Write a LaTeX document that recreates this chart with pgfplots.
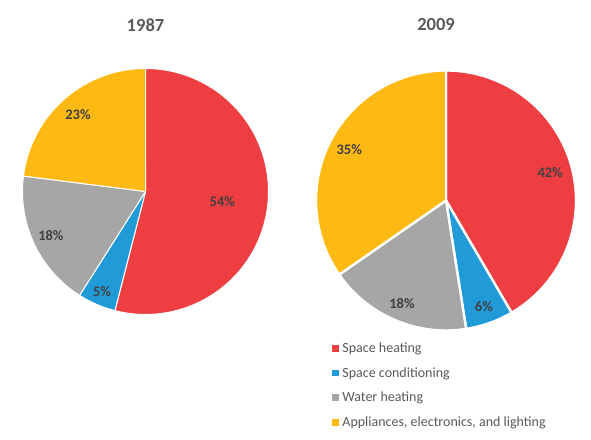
\documentclass[border=0pt]{standalone}
\usepackage{pgfplots}
\pgfplotsset{compat=1.18}
\usepackage{fontspec}
\setmainfont{Carlito}
\definecolor{cSH}{RGB}{239,62,66}
\definecolor{cSC}{RGB}{33,155,215}
\definecolor{cWH}{RGB}{166,166,166}
\definecolor{cAP}{RGB}{255,185,19}
\definecolor{ctitle}{RGB}{89,89,89}
\definecolor{clab}{RGB}{64,64,64}
\pgfplotsset{sq/.style={legend image code/.code={\path[fill=#1,draw=none] (0bp,-3.3bp) rectangle (6.6bp,3.3bp); \path (9bp,0bp);}}}
% #1 cx, #2 cy, #3 r, #4 cumulative start, #5 value, #6 total, #7 colour, #8 border width, #9 label radius factor
\newcommand{\slice}[9]{%
  \addplot[forget plot, fill=#7, draw=white, line width=#8, line join=round,
    domain={90-360*(#4+#5)/#6}:{90-360*(#4)/#6}, samples=90, variable=\t]
    ({#1+#3*cos(\t)},{#2+#3*sin(\t)}) -- (axis cs:#1,#2) -- cycle;
  \node[font=\fontsize{14.5bp}{17bp}\selectfont\bfseries, text=clab]
    at (axis cs:{#1+#9*#3*cos(90-360*(#4+#5/2)/#6)},{#2+#9*#3*sin(90-360*(#4+#5/2)/#6)}) {#5\%};
}
\begin{document}
\begin{tikzpicture}
\begin{axis}[
  width=591bp, height=440bp, scale only axis,
  xmin=0, xmax=591, ymin=0, ymax=440,
  hide axis, clip=false,
  legend style={at={(axis cs:332,98.5)}, anchor=north west, draw=none,
    font=\fontsize{14bp}{16bp}\selectfont, text=ctitle, row sep=11.5bp,
    inner sep=0pt, nodes={inner sep=1pt}, cells={anchor=west}},
]
\path (axis cs:0,0) rectangle (axis cs:591,440);
% 1987
\slice{145.5}{248.5}{123}{0}{54}{100}{cSH}{1pt}{0.63}
\slice{145.5}{248.5}{123}{54}{5}{100}{cSC}{1pt}{0.89}
\slice{145.5}{248.5}{123}{59}{18}{100}{cWH}{1pt}{0.85}
\slice{145.5}{248.5}{123}{77}{23}{100}{cAP}{1pt}{0.83}
% 2009
\slice{446}{239.5}{130}{0}{42}{101}{cSH}{2.4pt}{0.83}
\slice{446}{239.5}{130}{42}{6}{101}{cSC}{2.4pt}{0.87}
\slice{446}{239.5}{130}{48}{18}{101}{cWH}{2.4pt}{0.86}
\slice{446}{239.5}{130}{66}{35}{101}{cAP}{2.4pt}{0.84}
\node[font=\fontsize{18.5bp}{21bp}\selectfont\bfseries, text=ctitle] at (axis cs:145.5,415) {1987};
\node[font=\fontsize{18.5bp}{21bp}\selectfont\bfseries, text=ctitle] at (axis cs:436,415) {2009};
\addlegendimage{sq=cSH}
\addlegendentry{Space heating}
\addlegendimage{sq=cSC}
\addlegendentry{Space conditioning}
\addlegendimage{sq=cWH}
\addlegendentry{Water heating}
\addlegendimage{sq=cAP}
\addlegendentry{Appliances, electronics, and lighting}
\end{axis}
\end{tikzpicture}
\end{document}
